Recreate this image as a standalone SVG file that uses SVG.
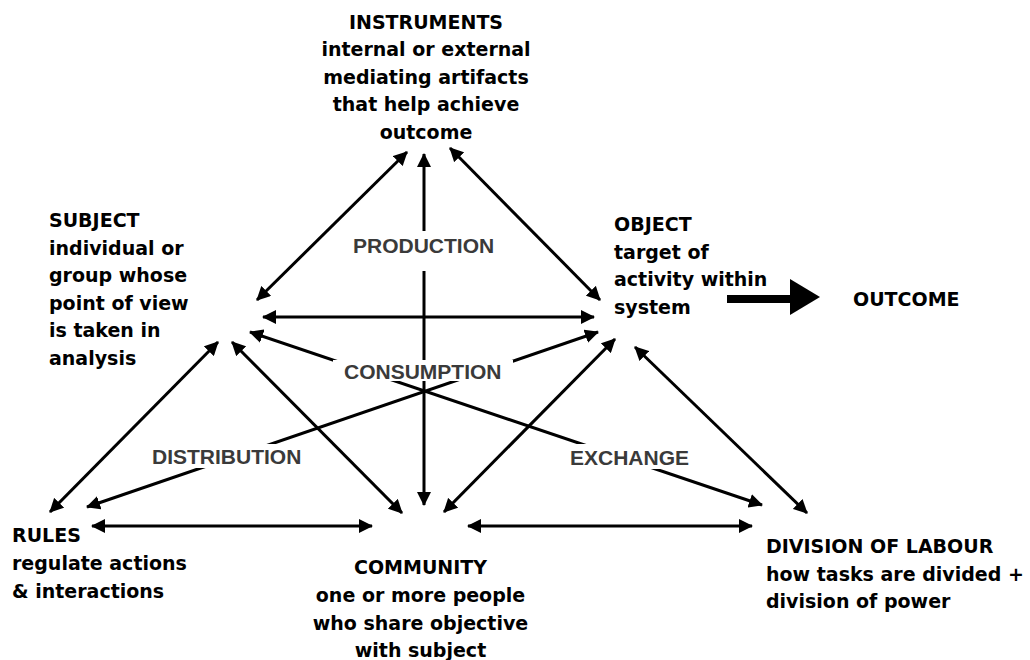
<svg xmlns="http://www.w3.org/2000/svg" width="1030" height="660" viewBox="0 0 1030 660">
<style>
.node{font-family:"DejaVu Sans",sans-serif;font-weight:bold;font-size:19px;fill:#000}
.mid{text-anchor:middle}
.lbl{font-family:"Liberation Sans",Arial,sans-serif;font-weight:bold;font-size:21px;fill:#3a3a3a}
.c{stroke:#000;stroke-width:3;fill:none;marker-start:url(#ah);marker-end:url(#ah)}
.bg{fill:#fff}
</style>
<defs>
<marker id="ah" viewBox="0 0 14 14" refX="13" refY="7" markerWidth="14" markerHeight="14" markerUnits="userSpaceOnUse" orient="auto-start-reverse">
<path d="M0,0 L14,7 L0,14 z" fill="#000"/>
</marker>
</defs>
<rect width="1030" height="660" fill="#fff"/>
<g id="connectors">
<line class="c" x1="407" y1="152" x2="257" y2="300"/>
<line class="c" x1="424" y1="154" x2="424" y2="505"/>
<line class="c" x1="450" y1="148" x2="600" y2="300"/>
<line class="c" x1="263" y1="317" x2="594" y2="317"/>
<line class="c" x1="250" y1="332" x2="762" y2="505"/>
<line class="c" x1="598" y1="332" x2="87" y2="507"/>
<line class="c" x1="50" y1="512" x2="218" y2="342"/>
<line class="c" x1="232" y1="342" x2="402" y2="513"/>
<line class="c" x1="444" y1="512" x2="615" y2="339"/>
<line class="c" x1="635" y1="347" x2="807" y2="513"/>
<line class="c" x1="92" y1="526" x2="372" y2="526"/>
<line class="c" x1="468" y1="526" x2="752" y2="526"/>
<g id="outcome-arrow">
<rect x="727" y="295" width="64" height="8" fill="#000"/>
<polygon points="790,279 820,297 790,315" fill="#000"/>
</g>
</g>
<g id="labels">
<g id="label-production"><rect class="bg" x="350" y="231" width="148" height="40"/><text class="lbl" x="353" y="253">PRODUCTION</text></g>
<g id="label-consumption"><rect class="bg" x="333" y="360" width="180" height="21"/><text class="lbl" x="344" y="379">CONSUMPTION</text></g>
<g id="label-distribution"><rect class="bg" x="146" y="444" width="162" height="24"/><text class="lbl" x="152" y="464">DISTRIBUTION</text></g>
<g id="label-exchange"><rect class="bg" x="566" y="444" width="128" height="25"/><text class="lbl" x="570" y="465">EXCHANGE</text></g>
</g>
<g id="instruments">
<text class="node mid" x="426" y="28.5">INSTRUMENTS</text>
<text class="node mid" x="426" y="56">internal or external</text>
<text class="node mid" x="426" y="83.5">mediating artifacts</text>
<text class="node mid" x="426" y="111">that help achieve</text>
<text class="node mid" x="426" y="138.5">outcome</text>
</g>
<g id="subject">
<text class="node" x="49" y="227">SUBJECT</text>
<text class="node" x="49" y="254.5">individual or</text>
<text class="node" x="49" y="282">group whose</text>
<text class="node" x="49" y="309.5">point of view</text>
<text class="node" x="49" y="337">is taken in</text>
<text class="node" x="49" y="364.5">analysis</text>
</g>
<g id="object">
<text class="node" x="614" y="231">OBJECT</text>
<text class="node" x="614" y="258.5">target of</text>
<text class="node" x="614" y="286">activity within</text>
<text class="node" x="614" y="313.5">system</text>
</g>
<g id="outcome">
<text class="node" x="853" y="306">OUTCOME</text>
</g>
<g id="rules">
<text class="node" x="12" y="541.5">RULES</text>
<text class="node" x="12" y="569.5">regulate actions</text>
<text class="node" x="12" y="597.5">&amp; interactions</text>
</g>
<g id="community">
<text class="node mid" x="420.5" y="574">COMMUNITY</text>
<text class="node mid" x="420.5" y="602">one or more people</text>
<text class="node mid" x="420.5" y="629.5">who share objective</text>
<text class="node mid" x="420.5" y="657">with subject</text>
</g>
<g id="division-of-labour">
<text class="node" x="766" y="553">DIVISION OF LABOUR</text>
<text class="node" x="766" y="580.5">how tasks are divided +</text>
<text class="node" x="766" y="608">division of power</text>
</g>
</svg>
